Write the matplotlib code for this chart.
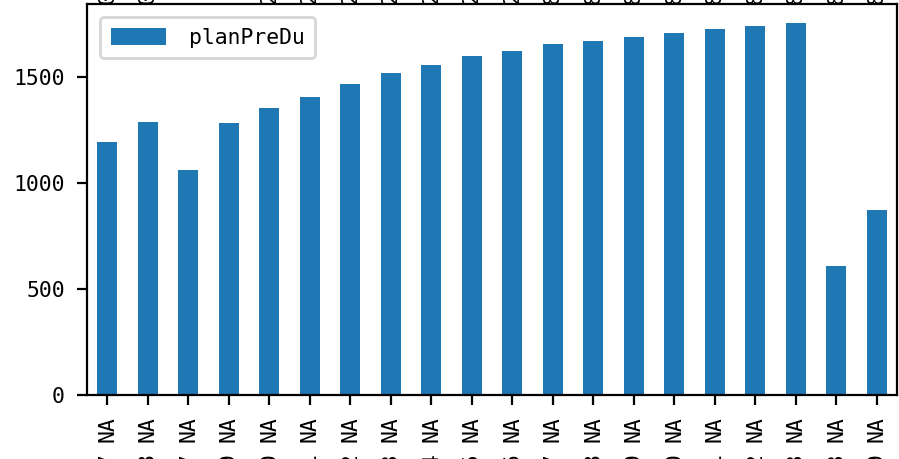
import matplotlib
matplotlib.use("Agg")
import matplotlib.pyplot as plt
import matplotlib.transforms as mtransforms
import numpy as np

# ---- data ----
series_name = "planPreDu"
tick_labels = ["2021-07-17 NA", "2021-07-18 NA", "2021-08-07 NA", "2021-08-09 NA",
               "2021-08-10 NA", "2021-08-11 NA", "2021-08-12 NA", "2021-08-13 NA",
               "2021-08-14 NA", "2021-08-15 NA", "2021-08-16 NA", "2021-08-17 NA",
               "2021-08-18 NA", "2021-08-19 NA", "2021-08-20 NA", "2021-08-21 NA",
               "2021-08-22 NA", "2021-08-23 NA", "2021-09-03 NA", "2021-09-09 NA"]
values = [1197, 1288, 1061, 1283, 1354, 1410, 1467, 1519, 1561, 1599,
          1627, 1656, 1670, 1693, 1708, 1731, 1745, 1759, 608, 873]
top_fragments = ["0", "0", " ", " ", "2", "2", "2", "2", "2", "2",
                 "2", "8", "8", "8", "8", "8", "8", "8", "8", "8"]

W, H, DPI = 899, 459, 200
FS = 7.7
plt.rcParams['font.family'] = ['DejaVu Sans Mono', 'DejaVu Sans']
plt.rcParams['font.size'] = FS

fig = plt.figure(figsize=(W / DPI, H / DPI), dpi=DPI)
ax = fig.add_axes([87 / W, 64 / H, (897 - 87) / W, (395 - 4) / H])

x = np.arange(len(values))
ax.bar(x, values, width=0.5, color='#1f77b4', label=series_name)
ax.set_xlim(-0.5, len(values) - 0.5)
ax.set_ylim(0, max(values) * 1.05)
ax.set_yticks([0, 500, 1000, 1500])
ax.set_xticks(x)
# the tick label ends with "NA" right under the tick; the rest of the label
# continues below (cut by the picture's edge)
ax.set_xticklabels([s.rsplit(" ", 1)[1] for s in tick_labels], rotation=90)
ax.tick_params(axis='x', labelsize=FS, pad=4.0)
ax.tick_params(axis='y', labelsize=FS, pad=4.5)

trans = mtransforms.offset_copy(ax.get_xaxis_transform(), fig=fig,
                                y=-57 * 72 / DPI, units='points')
for xi, s in zip(x, tick_labels):
    ax.text(xi, 0, s.rsplit(" ", 1)[0], rotation=90, ha='center', va='top',
            fontsize=FS, transform=trans, clip_on=False)

ax.legend(loc='upper left', fontsize=FS, borderaxespad=0.6, borderpad=0.5,
          handlelength=2.6, handleheight=0.9, handletextpad=1.05)

# fragments of labels from above the cropped region
for xi, s in zip(x, top_fragments):
    if s.strip():
        xf = ax.transData.transform((xi, 0))[0] / W
        fig.text(xf, 1 - 4.5 / H, s + "0-07", rotation=90, ha='center', va='bottom',
                 fontsize=FS)

fig.savefig("out.png", dpi=DPI)
